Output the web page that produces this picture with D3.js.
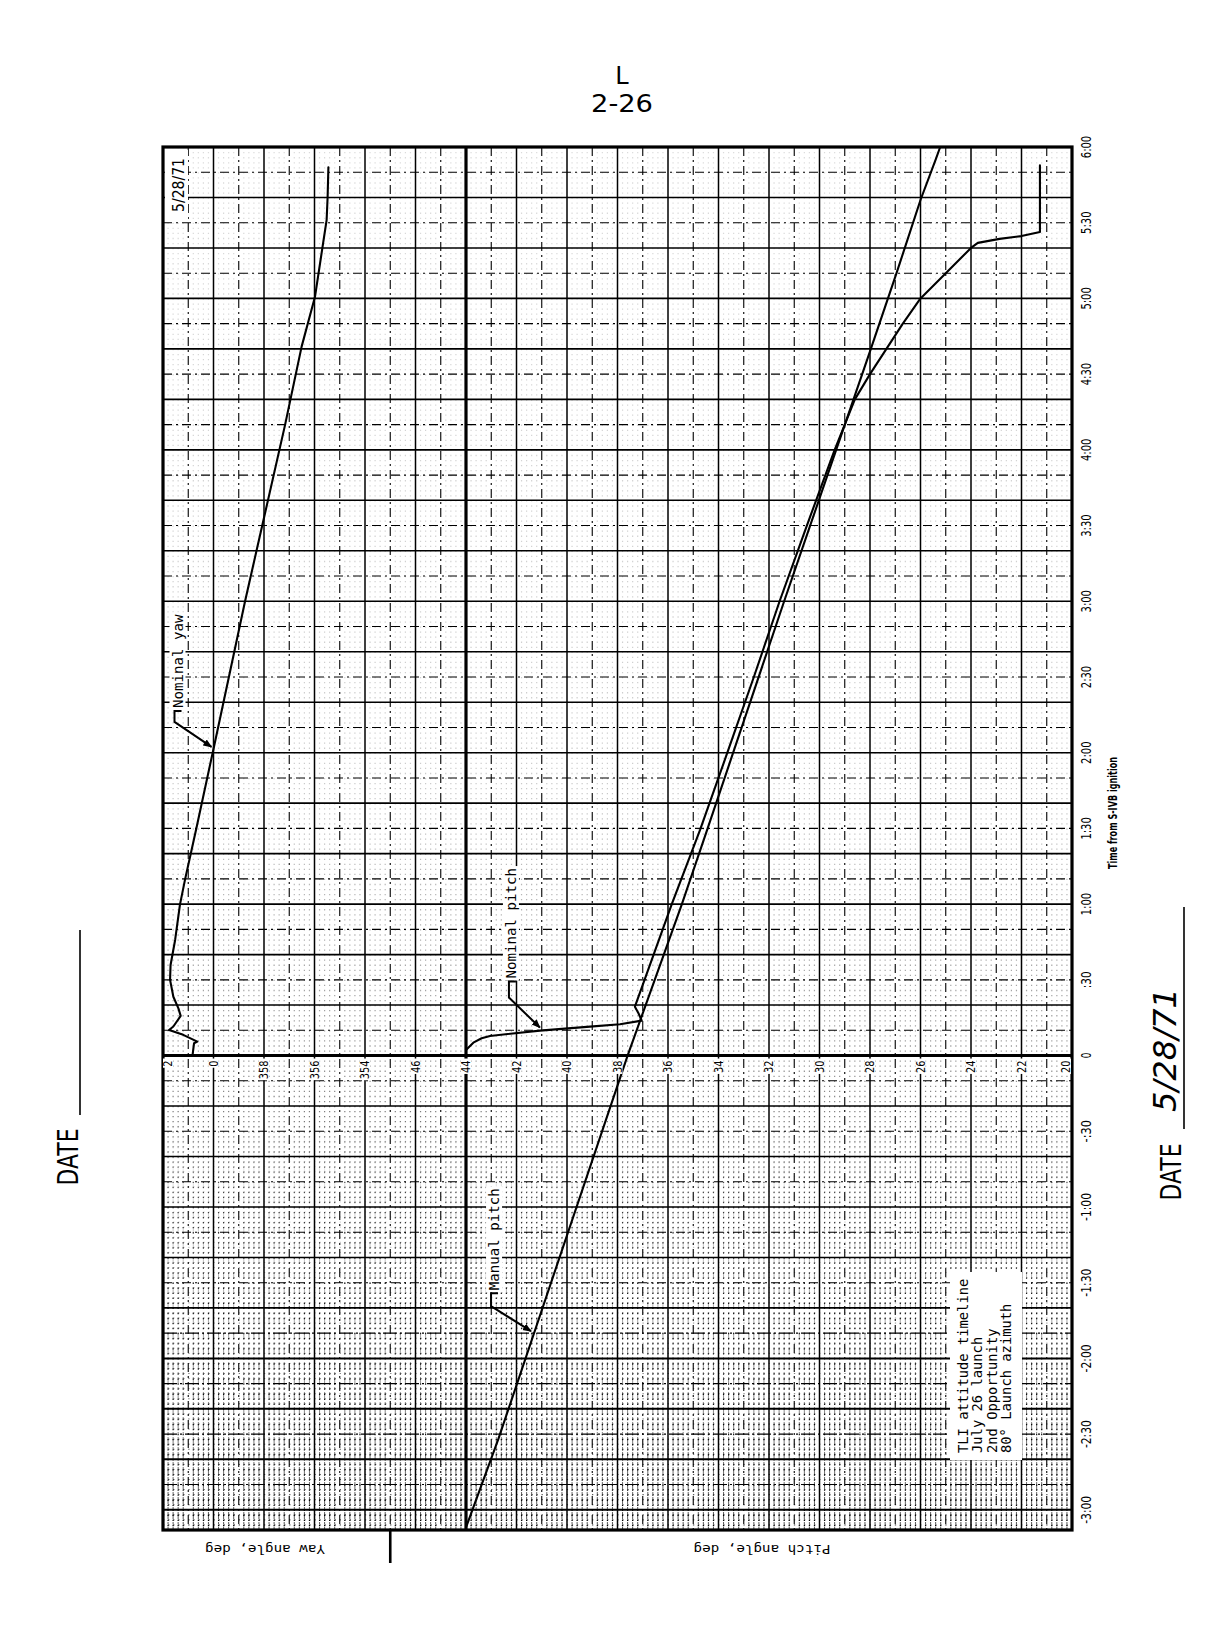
<!DOCTYPE html>
<html><head><meta charset="utf-8"><title>TLI attitude timeline</title>
<script src="https://d3js.org/d3.v7.min.js"></script>
<style>html,body{margin:0;padding:0;background:#fff}svg{display:block}</style></head>
<body><svg id="chart" width="1228" height="1632" xmlns="http://www.w3.org/2000/svg"></svg>
<script>
// ---------------- DATA ----------------
const timeTickValues = [-180,-150,-120,-90,-60,-30,0,30,60,90,120,150,180,210,240,270,300,330,360];
const timeTickLabels = ["-3:00","-2:30","-2:00","-1:30","-1:00","-:30","0",":30","1:00","1:30","2:00","2:30","3:00","3:30","4:00","4:30","5:00","5:30","6:00"];
const yawTickValues = [2,0,-2,-4,-6];
const yawTickLabels = ["2","0","358","356","354"];
const pitchTickValues = [46,44,42,40,38,36,34,32,30,28,26,24,22,20];
const pitchTickLabels = ["46","44","42","40","38","36","34","32","30","28","26","24","22","20"];

// time in seconds from S-IVB ignition, angles in degrees (yaw 358 = -2)
const nominalYawTime = [0.2, 4.9, 5.5, 8.2, 10.1, 11.5, 15.7, 18.7, 23.3, 30, 35.9, 45.8, 59.7, 69.6, 90, 121.5, 180, 249.7, 280.9, 300.7, 322.5, 331, 340.3, 352];
const nominalYawDeg  = [0.83, 0.77, 0.64, 1.2, 1.76, 1.59, 1.30, 1.39, 1.59, 1.72, 1.70, 1.52, 1.33, 1.13, 0.68, 0.0, -1.25, -2.83, -3.49, -4.02, -4.35, -4.48, -4.52, -4.55];

const nominalPitchTime = [2.2, 5.1, 6.85, 7.77, 9.87, 11.45, 12.4, 13.83, 16.76, 19.37, 60, 89.4, 120, 150, 180, 210, 240, 260, 270, 280, 290, 300, 310, 320, 322, 323.6, 324.7, 326.3, 352.7];
const nominalPitchDeg  = [44.0, 43.71, 43.38, 43.05, 41.07, 39.09, 37.9, 37.04, 37.17, 37.31, 35.85, 34.73, 33.65, 32.6, 31.58, 30.5, 29.4, 28.6, 28.0, 27.35, 26.7, 26.0, 25.0, 24.0, 23.73, 22.87, 22.0, 21.27, 21.27];

const manualPitchTime = [-187, -152, 0, 60, 89.4, 180, 279, 310, 339, 355, 360];
const manualPitchDeg  = [44.0, 42.72, 37.6, 35.45, 34.45, 31.4, 28.0, 26.95, 26.0, 25.4, 25.22];

const seriesLabels = ["Nominal yaw", "Nominal pitch", "Manual pitch"];
const legendLines = ["TLI attitude timeline", "July 26 launch", "2nd Opportunity", "80\u00B0 Launch azimuth"];
const pageNumber = ["L", "2-26"];
const chartDate = "5/28/71";
const timeTitle = "Time from S-IVB ignition";
const yawTitle = "Yaw angle, deg";
const pitchTitle = "Pitch angle, deg";

// ---------------- SCALES ----------------
const svg = d3.select("#chart");
const y = d3.scaleLinear().domain([-188, 360]).range([1530, 147]);
const xGrid = d3.scaleLinear().domain([0, 36]).range([163, 1072]);   // 1 unit = 1 degree of paper
const xYaw = d3.scaleLinear().domain([2, -6]).range([xGrid(0), xGrid(8)]);
const xPitch = d3.scaleLinear().domain([46, 20]).range([xGrid(10), xGrid(36)]);
const X0 = xGrid(0), X1 = xGrid(36), Y0 = y(360), Y1 = y(-188);

const MONO = "'DejaVu Sans Mono','Liberation Mono',monospace";
const SANS = "'DejaVu Sans','Liberation Sans',sans-serif";

// ---------------- DEFS ----------------
const defs = svg.append("defs");
function gradMask(id, stops) {
  const g = defs.append("linearGradient").attr("id", id + "G").attr("gradientUnits", "userSpaceOnUse")
    .attr("x1", 0).attr("y1", Y0).attr("x2", 0).attr("y2", Y1);
  stops.forEach(([o, v]) => g.append("stop").attr("offset", o).attr("stop-color", "#fff").attr("stop-opacity", v));
  const m = defs.append("mask").attr("id", id).attr("maskUnits", "userSpaceOnUse")
    .attr("x", 0).attr("y", 0).attr("width", 1228).attr("height", 1632);
  m.append("rect").attr("x", X0).attr("y", Y0).attr("width", X1 - X0).attr("height", Y1 - Y0).attr("fill", `url(#${id}G)`);
}
gradMask("fineMask", [[0, 0.14], [0.45, 0.2], [0.66, 0.4], [0.8, 0.8], [1, 1]]);
gradMask("lowMask", [[0, 0], [0.7, 0], [0.82, 0.35], [0.92, 0.6], [1, 0.85]]);
defs.append("marker").attr("id", "arrow").attr("viewBox", "0 0 10 10").attr("refX", 9).attr("refY", 5)
  .attr("markerWidth", 9).attr("markerHeight", 9).attr("markerUnits", "userSpaceOnUse").attr("orient", "auto")
  .append("path").attr("d", "M0,1 L10,5 L0,9 z").attr("fill", "#000");

// ---------------- FINE DOT GRID ----------------
const dotStep = y(0) - y(2);
const fine = svg.append("g").attr("mask", "url(#fineMask)").attr("stroke", "#000").attr("stroke-width", 1.2);
d3.range(0.2, 36, 0.2).filter(u => Math.abs(u - Math.round(u)) > 0.01).forEach(u => {
  fine.append("line").attr("x1", xGrid(u)).attr("x2", xGrid(u)).attr("y1", Y0).attr("y2", Y1)
    .attr("stroke-dasharray", `1.3,${(dotStep - 1.3).toFixed(3)}`);
});
// denser photocopy texture toward the bottom of the sheet
const low = svg.append("g").attr("mask", "url(#lowMask)").attr("stroke", "#000");
d3.range(0.2, 36, 0.2).filter(u => Math.abs(u - Math.round(u)) > 0.01).forEach(u => {
  low.append("line").attr("x1", xGrid(u)).attr("x2", xGrid(u)).attr("y1", Y0).attr("y2", Y1)
    .attr("stroke-width", 0.8).attr("stroke-dasharray", "7,3,2,3");
});
d3.range(-188, 0, 2).filter(t => t % 10 !== 0).forEach(t => {
  low.append("line").attr("x1", X0).attr("x2", X1).attr("y1", y(t)).attr("y2", y(t))
    .attr("stroke-width", 1).attr("stroke-dasharray", `1.3,${(dotStep - 1.3).toFixed(3)}`);
});

// ---------------- MAJOR / MINOR GRID ----------------
const grid = svg.append("g").attr("stroke", "#000").attr("fill", "none");
d3.range(1, 36).forEach(u => {
  const odd = u % 2 === 1;
  if (u === 12) return;
  grid.append("line").attr("x1", xGrid(u)).attr("x2", xGrid(u)).attr("y1", Y0).attr("y2", Y1)
    .attr("stroke-width", odd ? 1.1 : 1.5)
    .attr("stroke-dasharray", odd ? "9,4,2,4" : null);
});
d3.range(-180, 360, 10).forEach(t => {
  if (t === 0) return;
  const minor = t % 20 !== 0;
  grid.append("line").attr("x1", X0).attr("x2", X1).attr("y1", y(t)).attr("y2", y(t))
    .attr("stroke-width", minor ? 1.1 : (t < -100 ? 2 : 1.6))
    .attr("stroke-dasharray", minor ? (t < -100 ? "14,3,2,3" : "9,4,2,4") : null);
});
// heavy lines
grid.append("line").attr("x1", xGrid(12)).attr("x2", xGrid(12)).attr("y1", Y0).attr("y2", Y1).attr("stroke-width", 3.2);
grid.append("line").attr("x1", X0).attr("x2", X1).attr("y1", y(0)).attr("y2", y(0)).attr("stroke-width", 3);
grid.append("rect").attr("x", X0).attr("y", Y0).attr("width", X1 - X0).attr("height", Y1 - Y0).attr("stroke-width", 3.2);

// ---------------- CURVES ----------------
const curves = svg.append("g").attr("fill", "none").attr("stroke", "#000").attr("stroke-width", 2.1)
  .attr("stroke-linejoin", "round").attr("stroke-linecap", "round");
const yawData = nominalYawTime.map((t, i) => ({ t, v: nominalYawDeg[i] }));
const nomPitchData = nominalPitchTime.map((t, i) => ({ t, v: nominalPitchDeg[i] }));
const manPitchData = manualPitchTime.map((t, i) => ({ t, v: manualPitchDeg[i] }));
curves.append("path").attr("d", d3.line().x(d => xYaw(d.v)).y(d => y(d.t))(yawData));
curves.append("path").attr("d", d3.line().x(d => xPitch(d.v)).y(d => y(d.t))(nomPitchData));
curves.append("path").attr("d", d3.line().x(d => xPitch(d.v)).y(d => y(d.t))(manPitchData));

// ---------------- HELPERS ----------------
function interp(data, t) {
  for (let i = 1; i < data.length; i++) {
    if (t <= data[i].t) { const a = data[i - 1], b = data[i]; return a.v + (b.v - a.v) * (t - a.t) / (b.t - a.t); }
  }
  return data[data.length - 1].v;
}
function vtext(g, x, yy, str, o) {
  const t = g.append("text").attr("transform", `translate(${x},${yy}) rotate(${o.rot ?? -90})`)
    .attr("text-anchor", o.anchor || "middle").attr("dominant-baseline", "central")
    .attr("font-family", o.font || SANS).attr("font-size", o.size || 12)
    .attr("font-weight", o.weight || "normal").attr("font-style", o.style || "normal")
    .attr("fill", "#000").text(str);
  if (o.len) t.attr("textLength", o.len).attr("lengthAdjust", "spacingAndGlyphs");
  return t;
}

// ---------------- ANNOTATIONS ----------------
const ann = svg.append("g");
function annotate(label, tx, ty, tip, bend, stubTop) {
  const len = label.length * 8.5;
  ann.append("rect").attr("x", tx - 8).attr("y", ty - len - 2).attr("width", 16).attr("height", len + 4).attr("fill", "#fff");
  vtext(ann, tx, ty, label, { anchor: "start", font: MONO, size: 14, len });
  ann.append("path").attr("fill", "none").attr("stroke", "#000").attr("stroke-width", 2)
    .attr("marker-end", "url(#arrow)")
    .attr("d", `M${stubTop[0] + 7},${stubTop[1]} L${stubTop[0]},${stubTop[1]} L${bend[0]},${bend[1]} L${tip[0]},${tip[1]}`);
}
{ // Nominal yaw
  const t = 121.5, px = xYaw(interp(yawData, t)), py = y(t);
  annotate(seriesLabels[0], px - 36, py - 41, [px - 2, py - 2], [px - 39, py - 27], [px - 39, py - 38]);
}
{ // Nominal pitch
  const t = 9.9, px = xPitch(interp(nomPitchData, t)), py = y(t);
  annotate(seriesLabels[1], px - 30, py - 52, [px - 1, py - 3], [px - 32, py - 33], [px - 32, py - 49]);
}
{ // Manual pitch
  const t = -110, px = xPitch(interp(manPitchData, t)), py = y(t);
  annotate(seriesLabels[2], px - 40, py - 43, [px - 3, py - 2], [px - 43, py - 27], [px - 43, py - 40]);
}

// ---------------- AXIS LABELS ----------------
const lab = svg.append("g");
const angleTicks = yawTickValues.map((v, i) => ({ x: xYaw(v), s: yawTickLabels[i] }))
  .concat(pitchTickValues.map((v, i) => ({ x: xPitch(v), s: pitchTickLabels[i] })));
angleTicks.forEach(d => {
  const x = Math.max(X0 + 5, Math.min(X1 - 6, d.x));
  const len = d.s.length * 6.2;
  lab.append("rect").attr("x", x - 5).attr("y", y(0) + 3).attr("width", 10).attr("height", len + 3).attr("fill", "#fff");
  vtext(lab, x, y(0) + 5, d.s, { anchor: "end", font: SANS, size: 12, len });
});
timeTickValues.forEach((t, i) => {
  const s = timeTickLabels[i];
  vtext(lab, 1086, y(t), s, { anchor: "middle", font: SANS, size: 14, len: s.length * 5.6 });
});
vtext(lab, 1113, 813, timeTitle, { font: SANS, size: 11.5, weight: "bold", len: 112 });
vtext(lab, (xYaw(2) + xYaw(-6)) / 2 + 1, 1549, yawTitle, { rot: 180, font: MONO, size: 13, len: 120 });
vtext(lab, 762, 1549, pitchTitle, { rot: 180, font: MONO, size: 13, len: 137 });
lab.append("line").attr("x1", xGrid(9)).attr("x2", xGrid(9)).attr("y1", Y1).attr("y2", Y1 + 33)
  .attr("stroke", "#000").attr("stroke-width", 2.6);

// date box top-left
lab.append("rect").attr("x", X0 + 2).attr("y", Y0 + 3).attr("width", 23).attr("height", 70).attr("fill", "#fff");
vtext(lab, X0 + 16, Y0 + 38, chartDate, { font: SANS, size: 15, len: 54 });

// legend box
const lg = svg.append("g");
lg.append("rect").attr("x", 950).attr("y", 1272).attr("width", 72).attr("height", 188).attr("fill", "#fff");
legendLines.forEach((s, i) => {
  vtext(lg, 963 + i * 14.4, 1453, s, { anchor: "start", font: MONO, size: 13.8, len: s.length * 8.3 });
});

// ---------------- PAGE TEXT ----------------
const page = svg.append("g");
page.append("text").attr("x", 622).attr("y", 84).attr("text-anchor", "middle").attr("font-family", SANS)
  .attr("font-size", 24).text(pageNumber[0]);
page.append("text").attr("x", 622).attr("y", 112).attr("text-anchor", "middle").attr("font-family", SANS)
  .attr("font-size", 24).attr("textLength", 62).attr("lengthAdjust", "spacingAndGlyphs").text(pageNumber[1]);
vtext(page, 68, 1157, "DATE", { font: SANS, size: 28, len: 57 });
page.append("line").attr("x1", 80).attr("x2", 80).attr("y1", 930).attr("y2", 1115).attr("stroke", "#000").attr("stroke-width", 1.6);
vtext(page, 1171, 1172, "DATE", { font: SANS, size: 28, len: 57 });
vtext(page, 1165, 1050, chartDate, { font: SANS, size: 32, style: "italic", len: 124 });
page.append("line").attr("x1", 1184).attr("x2", 1184).attr("y1", 907).attr("y2", 1129).attr("stroke", "#000").attr("stroke-width", 1.6);
</script></body></html>
